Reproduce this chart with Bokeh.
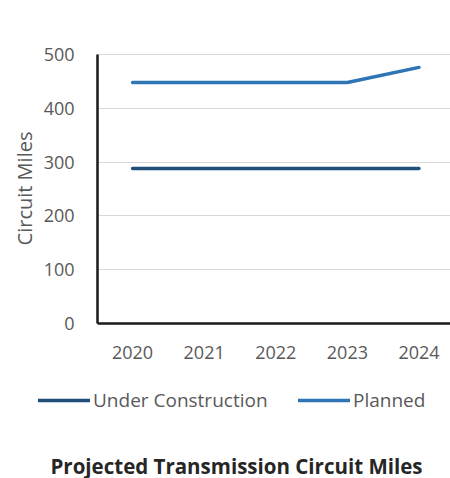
import math
from bokeh.plotting import figure
from bokeh.models import Range1d, FixedTicker, Legend, LegendItem, Label
from bokeh.embed import file_html
from bokeh.resources import INLINE

years = [2020, 2021, 2022, 2023, 2024]
under_construction = [288, 288, 288, 288, 288]
planned = [448, 448, 448, 448, 476]
y_ticks = [0, 100, 200, 300, 400, 500]
title_text = "Projected Transmission Circuit Miles"
y_title = "Circuit Miles"

FONT = "Open Sans"
GRAY = "#595959"

# frame covers the whole canvas; plot area x 97..450, y=0 at 323, y=500 at 54
X0, X1 = 2019.511, 2024.44
p = figure(width=450, height=478, output_backend="svg", toolbar_location=None,
           x_range=Range1d(2018.156, X1), y_range=Range1d(-288.1, 600.4),
           min_border_left=0, min_border_right=0, min_border_top=0, min_border_bottom=0)
p.outline_line_color = None
p.background_fill_color = "white"
p.border_fill_color = "white"

r_uc = p.line(years, under_construction, line_color="#1F4E79", line_width=3.4, line_cap="round")
r_pl = p.line(years, planned, line_color="#2E75B6", line_width=3.4, line_cap="round", line_join="round")

# axes
p.xaxis.ticker = FixedTicker(ticks=years)
p.xaxis.fixed_location = 0
p.xaxis.bounds = (X0, X1)
p.yaxis.ticker = FixedTicker(ticks=y_ticks)
p.yaxis.fixed_location = X0
p.yaxis.bounds = (0, 500)
for ax in (p.xaxis[0], p.yaxis[0]):
    ax.axis_line_color = "#1a1a1a"
    ax.axis_line_width = 2.5
    ax.major_tick_line_color = None
    ax.minor_tick_line_color = None
    ax.major_tick_out = 0
    ax.major_tick_in = 0
    ax.major_label_text_font = FONT
    ax.major_label_text_font_size = "18px"
    ax.major_label_text_color = GRAY
p.xaxis.major_label_standoff = 22
p.yaxis.major_label_standoff = 23

p.xgrid.grid_line_color = None
p.ygrid.grid_line_color = "#d9d9d9"
p.ygrid.grid_line_width = 1
p.ygrid.cross_bounds = (X0, X1)

p.add_layout(Label(x=24, y=478 - 188, x_units="screen", y_units="screen", text=y_title,
                   angle=math.pi / 2, text_align="center", text_baseline="middle",
                   text_font=FONT, text_font_size="20px", text_color=GRAY))

# legends (one per item for exact placement)
def make_legend(label, renderer, x):
    lg = Legend(items=[LegendItem(label=label, renderers=[renderer])],
                location=(x, 65), orientation="horizontal",
                glyph_width=52, glyph_height=20, label_height=20,
                label_standoff=3, padding=0, margin=0, spacing=0,
                border_line_color=None, background_fill_alpha=0,
                label_text_font=FONT, label_text_font_size="19px",
                label_text_color=GRAY)
    p.add_layout(lg, "center")

make_legend("Under Construction", r_uc, 38)
make_legend("Planned", r_pl, 298)

p.add_layout(Label(x=236, y=13, x_units="screen", y_units="screen", text=title_text,
                   text_align="center", text_baseline="middle", text_font=FONT,
                   text_font_size="20.5px", text_font_style="bold", text_color="#262626"))

open("out.html", "w").write(file_html(p, INLINE))
